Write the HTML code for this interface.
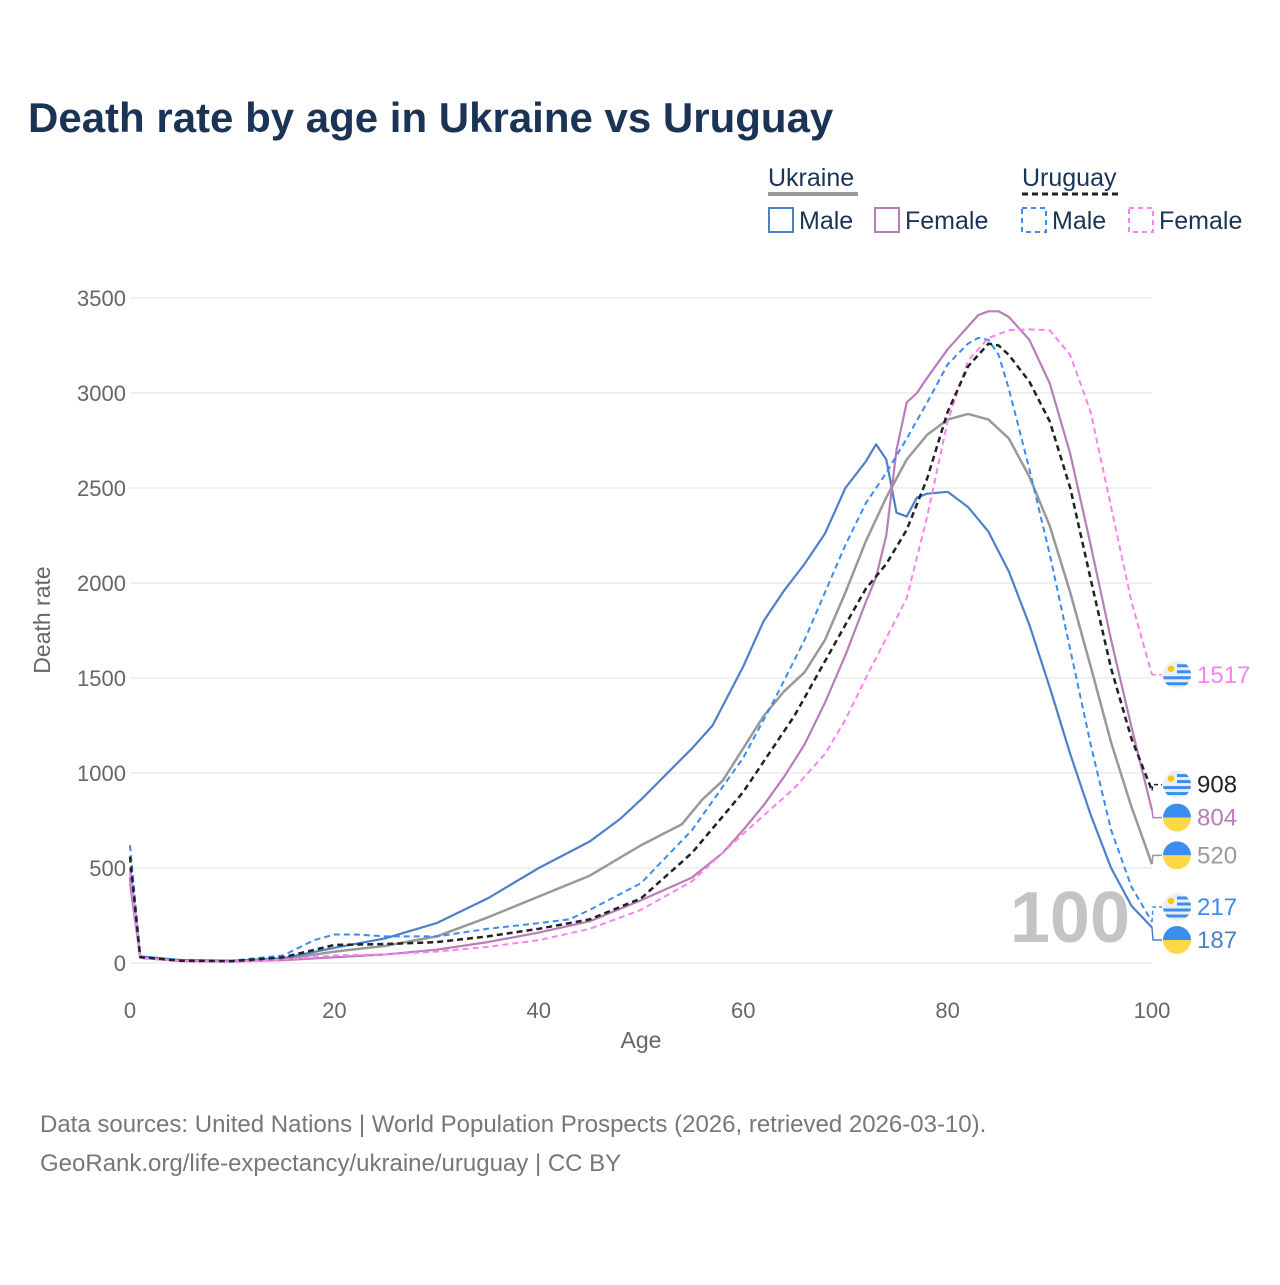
<!DOCTYPE html>
<html><head><meta charset="utf-8"><style>
body{margin:0;background:#fff;}
svg text{font-family:"Liberation Sans",sans-serif;}
</style></head><body>
<svg id="chart" width="1280" height="1280" viewBox="0 0 1280 1280" xmlns="http://www.w3.org/2000/svg">
<defs id="defs"></defs>
<text x="28" y="132" font-size="42" font-weight="bold" fill="#1b3354">Death rate by age in Ukraine vs Uruguay</text>
<g font-size="25" fill="#1b3354">
<text x="768" y="186">Ukraine</text>
<rect x="768" y="192" width="90" height="4" fill="#999"/>
<text x="1022" y="186">Uruguay</text>
<line x1="1022" y1="194" x2="1119" y2="194" stroke="#222" stroke-width="3" stroke-dasharray="6,4"/>
<g><rect x="769" y="208" width="24" height="24" fill="none" stroke="#4f7fc9" stroke-width="2"/><text x="799" y="229">Male</text></g>
<g><rect x="875" y="208" width="24" height="24" fill="none" stroke="#b87db9" stroke-width="2"/><text x="905" y="229">Female</text></g>
<g><rect x="1022" y="208" width="24" height="24" fill="none" stroke="#3b8bf0" stroke-width="2" stroke-dasharray="5,4"/><text x="1052" y="229">Male</text></g>
<g><rect x="1129" y="208" width="24" height="24" fill="none" stroke="#ff80f0" stroke-width="2" stroke-dasharray="5,4"/><text x="1159" y="229">Female</text></g>
</g>
<g id="grid"></g>
<g id="axes"></g>
<text x="1130" y="942" font-size="72" font-weight="bold" fill="#c4c4c4" text-anchor="end">100</text>
<g id="series"></g>
<g id="labels"></g>
<text x="641" y="1048" font-size="23" fill="#666" text-anchor="middle">Age</text>
<text transform="translate(50,620) rotate(-90)" font-size="23" fill="#666" text-anchor="middle">Death rate</text>
<text x="40" y="1132" font-size="24" fill="#777">Data sources: United Nations | World Population Prospects (2026, retrieved 2026-03-10).</text>
<text x="40" y="1171" font-size="24" fill="#777">GeoRank.org/life-expectancy/ukraine/uruguay | CC BY</text>
</svg>
<script>
const xTicks=[0,20,40,60,80,100];
const yTicks=[0,500,1000,1500,2000,2500,3000,3500];
const uaMaleAges=[0,1,5,10,15,20,25,30,35,40,45,48,50,55,57,60,62,64,66,68,70,72,73,74,75,76,77,78,80,82,84,86,88,90,92,94,96,98,100];
const uaMaleVals=[500,35,15,12,25,80,130,210,340,500,640,760,860,1130,1250,1560,1800,1960,2100,2260,2500,2640,2730,2650,2370,2350,2450,2470,2480,2400,2270,2060,1780,1450,1100,780,500,300,187];
const uaTotalAges=[0,1,5,10,15,20,25,30,35,40,45,50,54,56,58,60,62,64,66,68,70,72,74,76,78,80,82,84,86,88,90,92,94,96,98,100];
const uaTotalVals=[450,30,12,10,20,60,90,140,240,350,460,620,730,860,960,1130,1300,1430,1530,1700,1950,2220,2450,2650,2780,2860,2890,2860,2760,2560,2300,1950,1560,1160,820,520];
const uaFemaleAges=[0,1,5,10,15,20,25,30,35,40,45,50,55,58,60,62,64,66,68,70,72,73,74,75,76,77,78,80,82,83,84,85,86,88,90,92,94,96,98,100];
const uaFemaleVals=[420,30,10,8,15,30,45,70,110,160,220,330,450,580,700,830,980,1150,1370,1620,1900,2030,2250,2700,2950,3000,3080,3230,3350,3410,3430,3430,3400,3280,3050,2680,2200,1700,1240,804];
const uyTotalAges=[0,1,5,10,15,20,25,30,35,40,45,50,55,60,65,70,72,74,76,78,80,82,84,85,86,88,90,92,94,96,98,100];
const uyTotalVals=[560,30,12,10,30,95,100,110,140,180,230,340,580,900,1300,1780,1970,2100,2280,2550,2900,3140,3260,3250,3200,3060,2850,2500,2020,1550,1180,908];
const uyMaleAges=[0,1,5,10,15,18,20,22,25,30,35,40,43,45,50,55,60,63,66,68,70,72,74,76,78,80,82,83,84,85,86,88,90,92,94,96,98,100];
const uyMaleVals=[620,35,15,12,40,120,150,150,140,140,180,210,230,280,420,700,1080,1380,1700,1950,2200,2420,2580,2760,2950,3150,3260,3290,3280,3200,3020,2600,2150,1650,1150,700,400,217];
const uyFemaleAges=[0,1,5,10,15,20,25,30,35,40,45,50,55,60,65,68,70,72,74,76,78,80,82,84,86,88,90,92,94,96,98,100];
const uyFemaleVals=[480,25,10,8,18,40,45,60,85,120,180,280,430,680,920,1100,1280,1500,1710,1920,2350,2850,3170,3290,3330,3335,3330,3200,2900,2400,1900,1517];

const X=a=>130+a*10.22;
const Y=v=>963-v*0.19;
const NS='http://www.w3.org/2000/svg';
function mk(t,at,p){const e=document.createElementNS(NS,t);for(const k in at)e.setAttribute(k,at[k]);p.appendChild(e);return e;}
const grid=document.getElementById('grid'),axes=document.getElementById('axes'),defs=document.getElementById('defs');
yTicks.forEach(v=>{
 const l=mk('line',{x1:130,x2:1152,y1:Y(v),y2:Y(v),stroke:'#e6e6e6','stroke-width':1.2},grid);
 
 
 const t=mk('text',{x:126,y:Y(v)+8,'font-size':22,fill:'#666','text-anchor':'end'},axes);
 t.textContent=v;
 
 
});
xTicks.forEach(v=>{
 const t=mk('text',{x:X(v),y:1018,'font-size':22,fill:'#666','text-anchor':'middle'},axes);
 t.textContent=v;
 
 
});
const series=[
 {n:'ukraine-total',a:uaTotalAges,v:uaTotalVals,c:'#999',w:2.5,d:'',flag:'ua'},
 {n:'ukraine-male',a:uaMaleAges,v:uaMaleVals,c:'#4f7fc9',w:2.2,d:'',flag:'ua'},
 {n:'ukraine-female',a:uaFemaleAges,v:uaFemaleVals,c:'#b87db9',w:2.2,d:'',flag:'ua'},
 {n:'uruguay-male',a:uyMaleAges,v:uyMaleVals,c:'#3b8bf0',w:2,d:'6,4',flag:'uy'},
 {n:'uruguay-female',a:uyFemaleAges,v:uyFemaleVals,c:'#ff80f0',w:2,d:'6,4',flag:'uy'},
 {n:'uruguay-total',a:uyTotalAges,v:uyTotalVals,c:'#222',w:2.5,d:'6,4',flag:'uy'}
];
const sg=document.getElementById('series'),lg=document.getElementById('labels');
series.forEach(s=>{
 const p=mk('polyline',{points:s.a.map((a,i)=>X(a)+','+Y(s.v[i])).join(' '),fill:'none',stroke:s.c,'stroke-width':s.w,'stroke-dasharray':s.d,'stroke-linejoin':'round'},sg);
 
 
});
const ends=series.map(s=>({s,val:s.v[s.v.length-1],y:Y(s.v[s.v.length-1])})).sort((a,b)=>a.y-b.y);
for(let i=1;i<ends.length;i++){if(ends[i].y-ends[i-1].y<33)ends[i].y=ends[i-1].y+33;}
const shift=Math.max(0,ends[ends.length-1].y-940);
ends.forEach((e,i)=>{if(shift)e.y-=shift*(i/(ends.length-1));});
for(let i=ends.length-2;i>=0;i--){if(ends[i+1].y-ends[i].y<33)ends[i].y=ends[i+1].y-33;}
ends.forEach((e,idx)=>{
 const s=e.s,y0=Y(e.val),g=mk('g',{},lg);
 
 
 mk('polyline',{points:`${X(100)},${y0} ${X(100)+1},${e.y} ${X(100)+10},${e.y}`,fill:'none',stroke:s.c,'stroke-width':1.5,'stroke-dasharray':s.d?'4,3':''},g);
 const cx=1177,cy=e.y,r=14;
 const cp=mk('clipPath',{id:'fc'+idx},defs);
 mk('circle',{cx,cy,r},cp);
 const fg=mk('g',{'clip-path':`url(#fc${idx})`},g);
 if(s.flag==='ua'){
  mk('rect',{x:cx-r,y:cy-r,width:2*r,height:r,fill:'#3a8ef0'},fg);
  mk('rect',{x:cx-r,y:cy,width:2*r,height:r,fill:'#ffd84a'},fg);
 }else{
  mk('rect',{x:cx-r,y:cy-r,width:2*r,height:2*r,fill:'#eeeeee'},fg);
  [-9,-3,3,9].forEach(o=>mk('rect',{x:o<0?cx:cx-r,y:cy+o-1.5,width:o<0?r:2*r,height:3,fill:'#3a8ef0'},fg));
  mk('circle',{cx:cx-6,cy:cy-6,r:3.2,fill:'#f5c518'},fg);
 }
 const t=mk('text',{x:1197,y:e.y+8,'font-size':24,fill:s.c},g);
 t.textContent=e.val;
});
</script>
</body></html>
